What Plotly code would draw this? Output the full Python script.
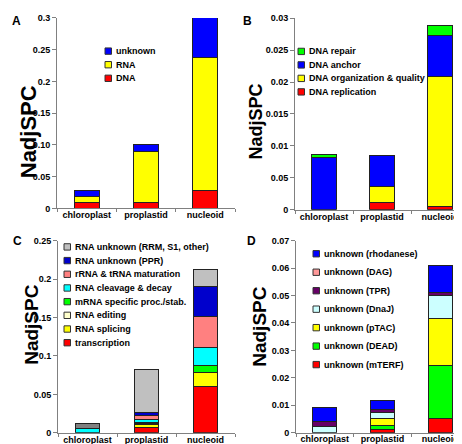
import plotly.graph_objects as go

W, H = 462, 444
FONT = "Liberation Sans, Arial, sans-serif"

categories = ["chloroplast", "proplastid", "nucleoid"]

# Panel A
A_names = ["DNA", "RNA", "unknown"]
A_DNA = [0.0095, 0.009, 0.029]
A_RNA = [0.0093, 0.080, 0.209]
A_unknown = [0.0095, 0.012, 0.062]
A_colors = ["#FF0000", "#FFFF00", "#0000FF"]
A_ticks = [0, 0.05, 0.10, 0.15, 0.2, 0.25, 0.3]
A_ticktext = ["0", "0.05", "0.10", "0.15", "0.2", "0.25", "0.3"]

# Panel B
B_names = ["DNA replication", "DNA organization & quality", "DNA anchor", "DNA repair"]
B_replication = [0, 0.0011, 0.0005]
B_organization = [0, 0.0026, 0.0204]
B_anchor = [0.0082, 0.0048, 0.0064]
B_repair = [0.0004, 0, 0.0016]
B_colors = ["#FF0000", "#FFFF00", "#0000FF", "#00FF00"]
B_ticks = [0, 0.005, 0.01, 0.015, 0.02, 0.025, 0.03]
B_ticktext = ["0", "0.05", "0.01", "0.015", "0.02", "0.025", "0.03"]

# Panel C
C_names = ["transcription", "RNA splicing", "RNA editing", "mRNA specific proc./stab.",
           "RNA cleavage & decay", "rRNA & tRNA maturation", "RNA unknown (PPR)",
           "RNA unknown (RRM, S1, other)"]
C_transcription = [0, 0.0067, 0.0606]
C_splicing = [0, 0.0043, 0.018]
C_editing = [0, 0.001, 0]
C_mrna = [0, 0.0015, 0.009]
C_cleavage = [0.005, 0.004, 0.024]
C_rrna = [0, 0.0045, 0.040]
C_ppr = [0, 0.0046, 0.039]
C_rrm = [0.0068, 0.0564, 0.0226]
C_colors = ["#FF0000", "#FFFF00", "#FFFFCC", "#00FF00", "#00FFFF", "#FF8080", "#0000CC", "#C0C0C0"]
C_rrm_bar_colors = ["#808080", "#C0C0C0", "#C0C0C0"]
C_ticks = [0, 0.05, 0.1, 0.15, 0.2, 0.25]
C_ticktext = ["0", "0.05", "0.1", "0.15", "0.2", "0.25"]

# Panel D
D_names = ["unknown (mTERF)", "unknown (DEAD)", "unknown (pTAC)", "unknown (DnaJ)",
           "unknown (TPR)", "unknown (DAG)", "unknown (rhodanese)"]
D_mterf = [0, 0.001, 0.0052]
D_dead = [0, 0.0017, 0.0193]
D_ptac = [0, 0.0025, 0.0172]
D_dnaj = [0.0023, 0.0022, 0.0082]
D_tpr = [0.0018, 0.0012, 0.0012]
D_dag = [0, 0, 0]
D_rhodanese = [0.0052, 0.0031, 0.0097]
D_colors = ["#FF0000", "#00FF00", "#FFFF00", "#CCFFFF", "#660066", "#FF9999", "#0000FF"]
D_ticks = [0, 0.01, 0.02, 0.03, 0.04, 0.05, 0.06, 0.07]
D_ticktext = ["0", "0.01", "0.02", "0.03", "0.04", "0.05", "0.06", "0.07"]

panels = [
    dict(ax="", names=A_names, series=[A_DNA, A_RNA, A_unknown], colors=A_colors,
         ticks=A_ticks, ticktext=A_ticktext, xdom=(49, 227), ydom=(200, 5),
         label="A", label_xy=(2, 8), title_xy=(20, 122), title_size=22,
         leg=(97, 39, 13.9)),
    dict(ax="2", names=B_names, series=[B_replication, B_organization, B_anchor, B_repair],
         colors=B_colors, ticks=B_ticks, ticktext=B_ticktext, xdom=(287, 461), ydom=(201.3, 5.3),
         label="B", label_xy=(233, 8), title_xy=(247, 111), title_size=18,
         leg=(290, 39.3, 13.8)),
    dict(ax="3", names=C_names,
         series=[C_transcription, C_splicing, C_editing, C_mrna, C_cleavage, C_rrna, C_ppr, C_rrm],
         colors=C_colors, ticks=C_ticks, ticktext=C_ticktext, xdom=(50, 227), ydom=(429.5, 233),
         label="C", label_xy=(3, 233), title_xy=(24, 319), title_size=19,
         leg=(56, 239.3, 14.0)),
    dict(ax="4", names=D_names,
         series=[D_mterf, D_dead, D_ptac, D_dnaj, D_tpr, D_dag, D_rhodanese],
         colors=D_colors, ticks=D_ticks, ticktext=D_ticktext, xdom=(288, 461), ydom=(429.3, 233),
         label="D", label_xy=(237, 233), title_xy=(252, 320), title_size=19,
         leg=(305, 246.3, 18.9)),
]

fig = go.Figure()
shapes = []
annotations = []

def px_x(x):
    return x / W

def px_y(y):
    return 1 - y / H

for p in panels:
    ax = p["ax"]
    for i, (name, vals, col) in enumerate(zip(p["names"], p["series"], p["colors"])):
        mcol = col
        if p["label"] == "C" and name.startswith("RNA unknown (RRM"):
            mcol = C_rrm_bar_colors
        fig.add_trace(go.Bar(
            x=categories, y=[v if v else None for v in vals], name=name,
            marker=dict(color=mcol, line=dict(color="#222222", width=1)),
            xaxis="x" + ax, yaxis="y" + ax, showlegend=False,
        ))
    xd = p["xdom"]
    yd = p["ydom"]
    fig.layout["xaxis" + ax] = dict(
        domain=[px_x(xd[0]), px_x(xd[1])], anchor="y" + ax, type="category",
        categoryorder="array", categoryarray=categories,
        showline=True, linecolor="#808080", linewidth=1, showgrid=False, zeroline=False,
        ticks="outside", tickson="boundaries", ticklen=3, tickcolor="#808080",
        ticklabelstandoff=-2,
        tickfont=dict(family=FONT, size=9, color="black", weight="bold"),
        fixedrange=True,
    )
    fig.layout["yaxis" + ax] = dict(
        domain=[px_y(yd[0]), px_y(yd[1])], anchor="x" + ax,
        range=[0, p["ticks"][-1]], tickmode="array", tickvals=p["ticks"], ticktext=p["ticktext"],
        showline=True, linecolor="#808080", linewidth=1, showgrid=False, zeroline=False,
        ticks="outside", ticklen=4, tickcolor="#808080",
        tickfont=dict(family=FONT, size=9, color="black", weight="bold"),
        fixedrange=True,
    )
    annotations.append(dict(
        text="<b>%s</b>" % p["label"], x=px_x(p["label_xy"][0]), y=px_y(p["label_xy"][1]),
        xref="paper", yref="paper", xanchor="left", yanchor="middle", showarrow=False,
        font=dict(family=FONT, size=12, color="black"),
    ))
    annotations.append(dict(
        text="<b>NadjSPC</b>", x=px_x(p["title_xy"][0]), y=px_y(p["title_xy"][1]),
        xref="paper", yref="paper", xanchor="center", yanchor="middle", showarrow=False,
        textangle=-90, font=dict(family=FONT, size=p["title_size"], color="black"),
    ))
    lx, ly, dy = p["leg"]
    sq = 6.5
    n = len(p["names"])
    for k in range(n):
        idx = n - 1 - k
        cy = ly + k * dy
        shapes.append(dict(
            type="rect", xref="paper", yref="paper",
            x0=px_x(lx), x1=px_x(lx + sq), y0=px_y(cy + sq / 2), y1=px_y(cy - sq / 2),
            fillcolor=p["colors"][idx], line=dict(color="#333333", width=1),
        ))
        annotations.append(dict(
            text="<b>%s</b>" % p["names"][idx], x=px_x(lx + sq + 2.5), y=px_y(cy),
            xref="paper", yref="paper", xanchor="left", yanchor="middle", showarrow=False,
            font=dict(family=FONT, size=9, color="black"),
        ))

fig.update_layout(
    width=W, height=H, margin=dict(l=0, r=0, t=0, b=0),
    paper_bgcolor="white", plot_bgcolor="white",
    barmode="stack", bargap=0.58,
    showlegend=False, shapes=shapes, annotations=annotations,
    font=dict(family=FONT, color="black"),
)

fig.write_html("out.html")
